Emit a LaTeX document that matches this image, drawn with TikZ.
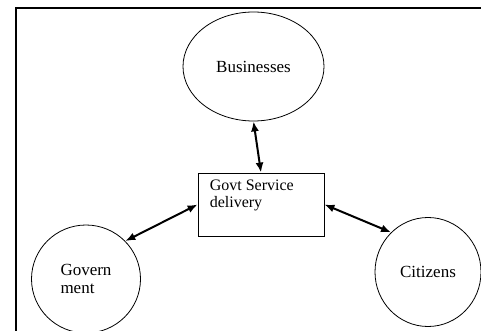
\documentclass[tikz,border=0pt]{standalone}
\usepackage{fontspec}
\setmainfont{Liberation Serif}
\usetikzlibrary{arrows.meta,shapes.geometric}

\begin{document}
\begin{tikzpicture}[x=1pt, y=-1pt,
    every node/.style={draw, inner sep=0pt, font=\fontsize{17}{18}\selectfont},
    party/.style={ellipse, line width=0.8pt},
    service/.style={rectangle, line width=0.8pt, minimum width=126pt, minimum height=63pt},
    caption/.style={draw=none, align=left, font=\fontsize{16}{17.5}\selectfont},
    link/.style={line width=2pt, {Latex[length=10pt,width=8pt]}-{Latex[length=10pt,width=8pt]}}
]
\useasboundingbox (0,0) rectangle (481,331);
\clip (0,0) rectangle (481,330);

% frame
\draw[line width=2pt] (15.5,331) -- (15.5,8.5) -- (482,8.5);

% the three parties
\node[party, minimum width=141pt, minimum height=109pt] (biz) at (253.5,66.5) {Businesses};
\node[party, align=left, minimum width=109pt, minimum height=108pt] (gov) at (86,279) {Govern\\ment};
\node[party, minimum width=106pt, minimum height=109pt] (cit) at (428,272) {Citizens};

% service box in the middle
\node[service] (svc) at (261,204.5) {};
\node[caption, anchor=north west] (svctext) at ([xshift=12pt,yshift=-7pt]svc.north west) {Govt Service\\delivery};

\draw[link] (biz.south) -- (svc.north);
\draw[link] (gov.44) -- (svc.west);
\draw[link] (svc.east) -- (cit.133);

\end{tikzpicture}
\end{document}
